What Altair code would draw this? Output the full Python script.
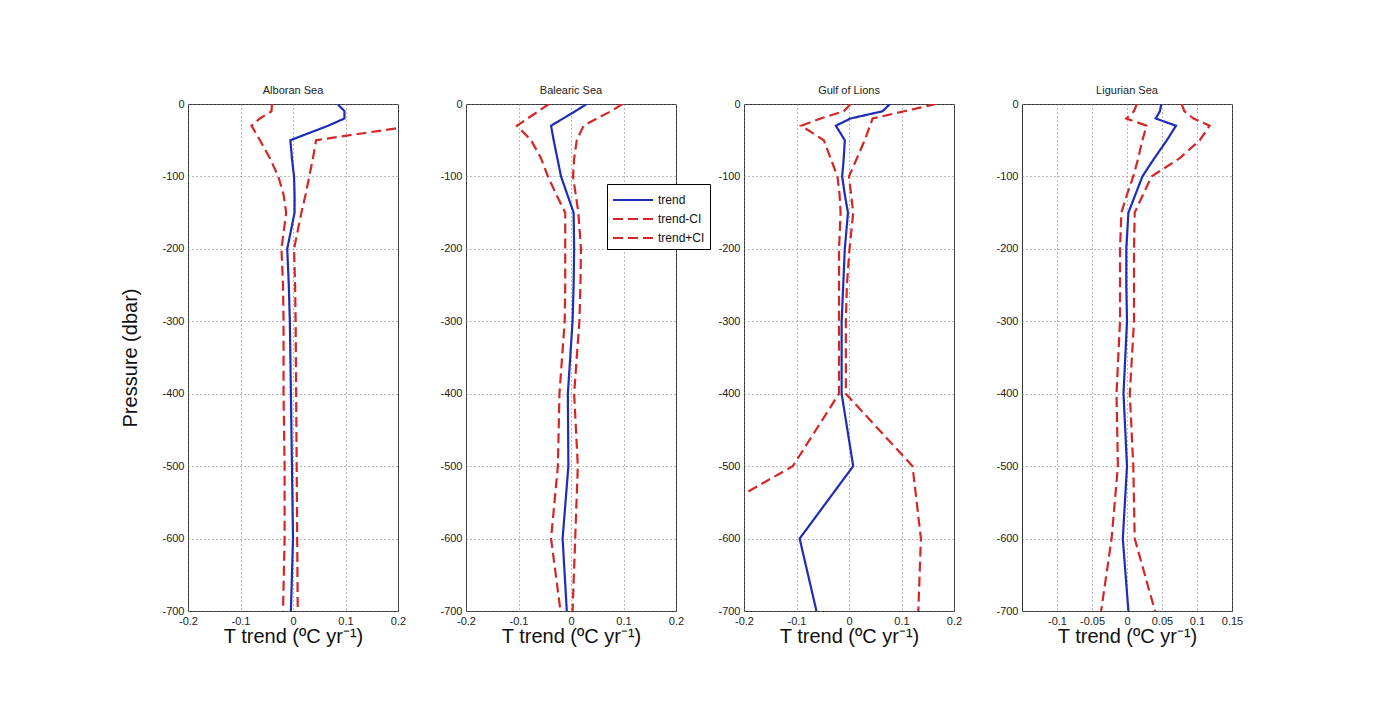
import altair as alt
import pandas as pd

# Pressure levels (dbar, negative downward)
levels = [0, -10, -20, -30, -50, -75, -100, -125, -150, -200, -250, -300, -400, -500, -600, -700]

series_names = ["trend", "trend-CI", "trend+CI"]
panel_names = ["Alboran Sea", "Balearic Sea", "Gulf of Lions", "Ligurian Sea"]

alb_trend = [0.085, 0.098, 0.098, 0.067, -0.005, -0.002, 0.002, 0.003, 0.003, -0.011, -0.008, -0.006, -0.004, -0.002, 0.000, -0.004]
alb_lo = [-0.040, -0.041, -0.063, -0.079, -0.063, -0.044, -0.028, -0.018, -0.013, -0.022, -0.019, -0.018, -0.018, -0.016, -0.016, -0.019]
alb_hi = [0.36, 0.33, 0.30, 0.23, 0.044, 0.038, 0.031, 0.024, 0.016, 0.002, 0.004, 0.005, 0.006, 0.007, 0.008, 0.009]

bal_trend = [0.030, 0.008, -0.015, -0.038, -0.033, -0.026, -0.019, -0.007, 0.005, 0.006, 0.005, 0.003, -0.006, -0.005, -0.016, -0.008]
bal_lo = [-0.042, -0.062, -0.083, -0.103, -0.076, -0.057, -0.044, -0.028, -0.011, -0.011, -0.011, -0.012, -0.022, -0.025, -0.038, -0.020]
bal_hi = [0.098, 0.076, 0.049, 0.024, 0.011, 0.006, 0.004, 0.009, 0.014, 0.019, 0.018, 0.016, 0.006, 0.013, 0.008, 0.003]

gul_trend = [0.078, 0.064, 0.003, -0.025, -0.008, -0.010, -0.013, -0.008, -0.002, -0.008, -0.011, -0.014, -0.014, 0.008, -0.094, -0.062]
gul_lo = [0.003, -0.010, -0.054, -0.091, -0.048, -0.035, -0.022, -0.018, -0.016, -0.019, -0.019, -0.019, -0.019, -0.107, -0.35, -0.30]
gul_hi = [0.166, 0.105, 0.045, 0.040, 0.030, 0.015, 0.000, 0.004, 0.008, 0.001, -0.004, -0.006, -0.006, 0.121, 0.137, 0.132]

lig_trend = [0.049, 0.047, 0.041, 0.070, 0.057, 0.039, 0.022, 0.012, 0.002, -0.001, -0.001, 0.000, -0.005, 0.000, -0.006, 0.002]
lig_lo = [0.014, 0.010, -0.001, 0.028, 0.022, 0.016, 0.009, 0.000, -0.008, -0.010, -0.010, -0.010, -0.015, -0.013, -0.022, -0.037]
lig_hi = [0.078, 0.082, 0.095, 0.118, 0.104, 0.075, 0.035, 0.023, 0.011, 0.010, 0.010, 0.010, 0.004, 0.009, 0.011, 0.040]

y_ticks = [0, -100, -200, -300, -400, -500, -600, -700]
x_ticks_wide = [-0.2, -0.1, 0, 0.1, 0.2]
x_ticks_lig = [-0.1, -0.05, 0, 0.05, 0.1, 0.15]

panel_data = {
    "Alboran Sea": (alb_trend, alb_lo, alb_hi),
    "Balearic Sea": (bal_trend, bal_lo, bal_hi),
    "Gulf of Lions": (gul_trend, gul_lo, gul_hi),
    "Ligurian Sea": (lig_trend, lig_lo, lig_hi),
}

BLUE = "#1e2db8"
RED = "#d42626"
FONT = "Liberation Sans"
XTITLE = "T trend (ºC yr⁻¹)"


def make_df(name):
    rows = []
    for s, vals in zip(series_names, panel_data[name]):
        for p, v in zip(levels, vals):
            rows.append({"pressure": p, "value": v, "series": s})
    return pd.DataFrame(rows)


def panel(name, domain, xticks, ytitle, legend):
    leg = None
    if legend:
        leg = alt.Legend(
            orient="none", legendX=141, legendY=80, title=None,
            fillColor="white", strokeColor="black", padding=5,
            symbolType="M-1,0H3", symbolSize=400, symbolStrokeWidth=2,
            labelFontSize=12, labelFont=FONT, labelColor="#111",
            rowPadding=2, labelOffset=24,
        )
    yaxis = alt.Axis(values=y_ticks, labelExpr="toString(datum.value)",
                     title=ytitle if ytitle else None, titlePadding=21)
    return alt.Chart(make_df(name)).mark_line(clip=True, strokeWidth=2.2).encode(
        x=alt.X("value:Q",
                scale=alt.Scale(domain=domain, nice=False, zero=False),
                axis=alt.Axis(values=xticks, labelExpr="toString(datum.value)",
                              labelFlush=False, title=XTITLE, titlePadding=0)),
        y=alt.Y("pressure:Q", scale=alt.Scale(domain=[-700, 0], nice=False), axis=yaxis),
        color=alt.Color("series:N",
                        scale=alt.Scale(domain=series_names, range=[BLUE, RED, RED]),
                        legend=leg),
        strokeDash=alt.StrokeDash("series:N",
                                  scale=alt.Scale(domain=series_names, range=[[1, 0], [10, 5], [10, 5]]),
                                  legend=leg),
        order=alt.Order("pressure:Q", sort="descending"),
    ).properties(width=210, height=507, title=name)


charts = [
    panel("Alboran Sea", [-0.2, 0.2], x_ticks_wide, "Pressure (dbar)", False),
    panel("Balearic Sea", [-0.2, 0.2], x_ticks_wide, None, True),
    panel("Gulf of Lions", [-0.2, 0.2], x_ticks_wide, None, False),
    panel("Ligurian Sea", [-0.15, 0.15], x_ticks_lig, None, False),
]

chart = alt.hconcat(*charts, spacing=68, bounds="flush").resolve_scale(
    color="independent", strokeDash="independent"
).properties(
    padding={"left": 112, "top": 76, "right": 5, "bottom": 5},
    background="white",
).configure(font=FONT).configure_view(
    stroke="#333333", strokeWidth=1
).configure_axis(
    grid=True, gridDash=[1, 3], gridColor="#777777", gridOpacity=1, gridWidth=1,
    domain=False, ticks=False, labelFontSize=11, labelColor="#222222", labelPadding=4,
    labelFont=FONT, titleFont=FONT, titleFontSize=20, titleFontWeight="normal", titleColor="#111111",
).configure_title(
    fontSize=11, fontWeight="normal", color="#222222", offset=2, font=FONT
)

chart.save("out.html", embed_options={"renderer": "svg", "actions": False})
